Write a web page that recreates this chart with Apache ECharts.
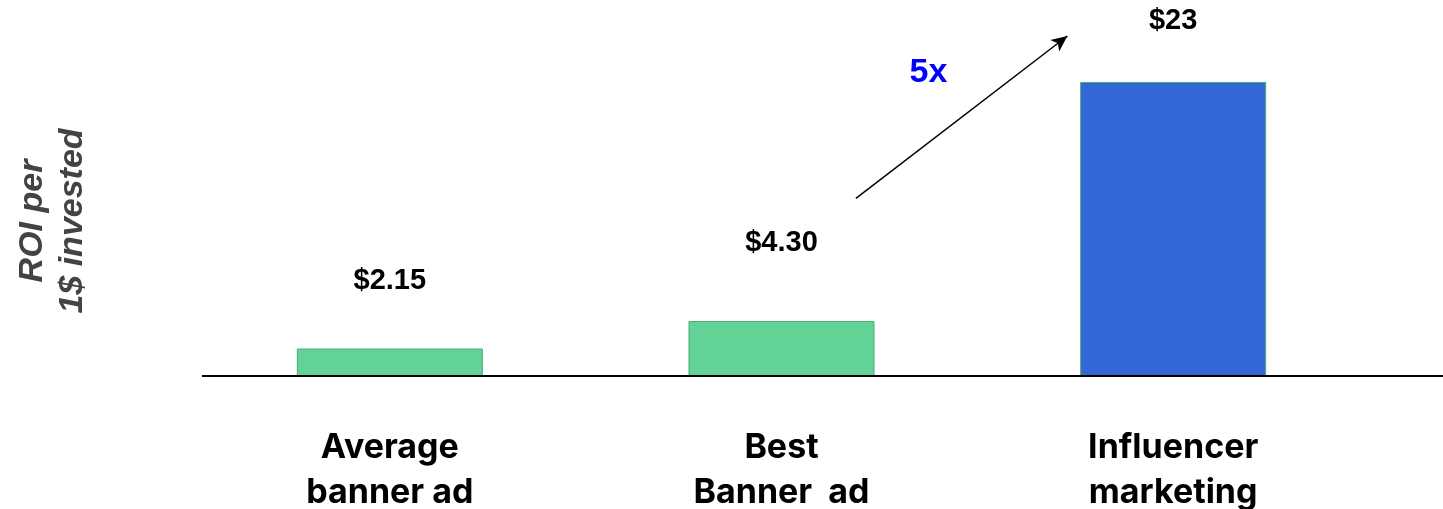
<!DOCTYPE html>
<html><head><meta charset="utf-8">
<script src="https://cdn.jsdelivr.net/npm/echarts@6/dist/echarts.min.js"></script>
<style>html,body{margin:0;padding:0;background:#fff}#c{width:1443px;height:509px}</style>
</head><body><div id="c"></div>
<script>
const categories = ['Average\nbanner ad', 'Best\nBanner  ad', 'Influencer\nmarketing'];
const roiValues = [2.15, 4.30, 23];
const valueLabels = ['$2.15', '$4.30', '$23'];
const axisName = 'ROI per\n1$ invested';
const multiplierText = '5x';
// annotation anchors in data space: [category position (index + fraction), value]
const arrowFrom = [1.19, 13.9];
const arrowTo = [1.73, 26.6];
const multiplierAt = [1.375, 23.7];

const barColors = ['#63d297', '#63d297', '#3367d6'];
const labelGaps = [53, 64, 47];

const chart = echarts.init(document.getElementById('c'), null, {renderer: 'canvas'});
const option = {
  animation: false,
  backgroundColor: '#ffffff',
  grid: {left: 194, right: 74, top: 82, bottom: 133, containLabel: false, outerBoundsMode: 'none'},
  xAxis: {
    type: 'category',
    data: categories,
    axisLine: {show: false},
    axisTick: {show: false},
    axisLabel: {
      margin: 49,
      color: '#000000',
      fontFamily: 'Inter',
      fontWeight: 'bold',
      fontSize: 34,
      lineHeight: 45,
      align: 'center'
    }
  },
  yAxis: {
    type: 'value',
    min: 0,
    max: 23,
    splitLine: {show: false},
    axisLine: {show: false},
    axisTick: {show: false},
    axisLabel: {show: false},
    name: axisName,
    nameLocation: 'middle',
    nameRotate: 90,
    nameGap: 101,
    nameTextStyle: {
      color: '#434343',
      fontFamily: 'Liberation Sans',
      fontWeight: 'bold',
      fontStyle: 'italic',
      fontSize: 34,
      lineHeight: 40,
      align: 'center',
      padding: [0, 0, 0, 16]
    }
  },
  series: [{
    type: 'bar',
    barWidth: 186,
    data: roiValues.map((v, i) => ({
      value: v,
      itemStyle: {color: barColors[i], borderColor: '#4fa878', borderWidth: 1},
      label: {distance: labelGaps[i]}
    })),
    label: {
      show: true,
      position: 'top',
      formatter: p => valueLabels[p.dataIndex],
      color: '#000000',
      fontFamily: 'Liberation Sans',
      fontWeight: 'bold',
      fontSize: 29
    }
  }]
};
chart.setOption(option);

const y0 = chart.convertToPixel({yAxisIndex: 0}, 0);
const c0 = chart.convertToPixel({xAxisIndex: 0}, 0);
const c1 = chart.convertToPixel({xAxisIndex: 0}, 1);
const band = c1 - c0;
function toPx(pt) {
  return [c0 + pt[0] * band, chart.convertToPixel({yAxisIndex: 0}, pt[1])];
}
const pFrom = toPx(arrowFrom);
const pTo = toPx(arrowTo);
const pText = toPx(multiplierAt);

chart.setOption({
  series: [{
    markLine: {
      silent: true,
      symbol: ['none', 'arrow'],
      symbolSize: [11, 16],
      label: {show: false},
      lineStyle: {color: '#000000', width: 1.5, type: 'solid'},
      data: [[{x: pFrom[0], y: pFrom[1]}, {x: pTo[0], y: pTo[1]}]]
    }
  }],
  graphic: [
    {type: 'line', shape: {x1: 202, y1: y0, x2: 1443, y2: y0}, style: {stroke: '#000000', lineWidth: 2}, z: 10},
    {type: 'text', x: pText[0], y: pText[1], style: {text: multiplierText, fill: '#0000ff', font: 'bold 34px "Liberation Sans"', align: 'center', verticalAlign: 'middle'}}
  ]
});
</script></body></html>
